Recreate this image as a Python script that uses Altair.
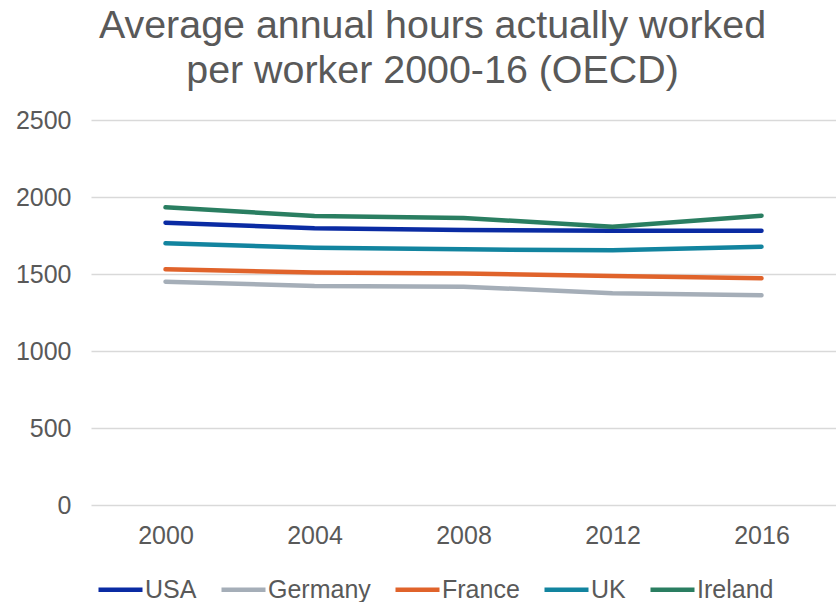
import altair as alt
import pandas as pd

years = ["2000", "2004", "2008", "2012", "2016"]
countries = ["USA", "Germany", "France", "UK", "Ireland"]
colors = ["#0A2BA3", "#A5AEB8", "#E0632B", "#12849F", "#2A7E61"]

usa = [1833, 1797, 1786, 1781, 1781]
germany = [1450, 1422, 1418, 1375, 1362]
france = [1531, 1510, 1504, 1487, 1472]
uk = [1699, 1671, 1660, 1654, 1677]
ireland = [1933, 1877, 1864, 1807, 1879]

series = dict(zip(countries, [usa, germany, france, uk, ireland]))
rows = []
for c in countries:
    for y, v in zip(years, series[c]):
        rows.append({"Year": y, "Country": c, "Hours": v})
df = pd.DataFrame(rows)

TEXT = "#595959"
FONT = "Liberation Sans"

chart = (
    alt.Chart(df)
    .mark_line(strokeWidth=4.5, strokeCap="round", strokeJoin="round")
    .encode(
        x=alt.X(
            "Year:N",
            sort=years,
            title=None,
            scale=alt.Scale(type="point", padding=0.5),
            axis=alt.Axis(
                labelAngle=0,
                labelFontSize=25,
                labelColor=TEXT,
                labelFont=FONT,
                labelPadding=18,
                ticks=False,
                domain=False,
                grid=False,
            ),
        ),
        y=alt.Y(
            "Hours:Q",
            title=None,
            scale=alt.Scale(domain=[0, 2500], nice=False),
            axis=alt.Axis(
                values=[0, 500, 1000, 1500, 2000, 2500],
                format="d",
                labelFontSize=25,
                labelColor=TEXT,
                labelFont=FONT,
                labelPadding=20,
                ticks=False,
                domain=False,
                gridColor="#D9D9D9",
                gridWidth=1.3,
            ),
        ),
        color=alt.Color(
            "Country:N",
            sort=countries,
            scale=alt.Scale(domain=countries, range=colors),
            legend=alt.Legend(
                title=None,
                orient="none",
                legendX=5,
                legendY=445,
                direction="horizontal",
                columns=5,
                columnPadding=15,
                symbolType="stroke",
                symbolSize=1936,
                symbolStrokeWidth=4.5,
                labelFontSize=25,
                labelColor=TEXT,
                labelFont=FONT,
                labelOffset=0,
                padding=0,
            ),
        ),
        order=alt.Order("Year:N"),
    )
    .properties(
        width=745,
        height=385,
        padding={"left": 91, "top": 120, "right": 0, "bottom": 97},
        autosize=alt.AutoSizeParams(type="none"),
        title=alt.TitleParams(
            text=["Average annual hours actually worked", "per worker 2000-16 (OECD)"],
            fontSize=39.4,
            font=FONT,
            fontWeight="normal",
            color=TEXT,
            lineHeight=45,
            anchor="middle",
            dx=-31,
            offset=17,
        ),
    )
    .configure_view(stroke=None)
)

chart.save("out.html", embed_options={"renderer": "svg", "actions": False})
